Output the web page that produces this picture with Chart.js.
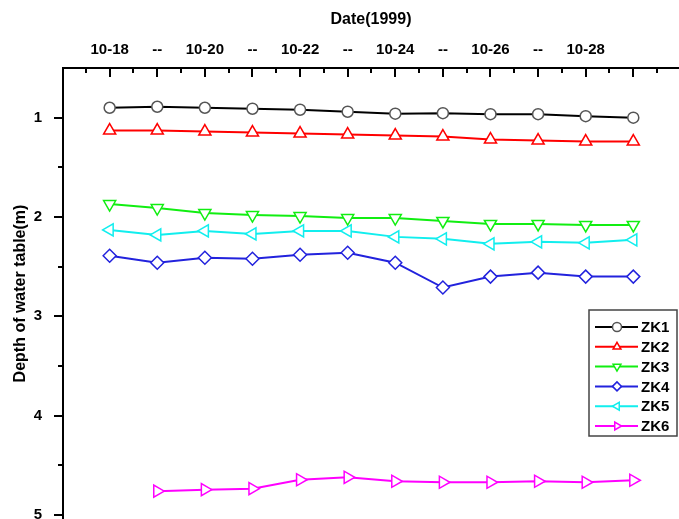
<!DOCTYPE html>
<html>
<head>
<meta charset="utf-8">
<script src="https://cdn.jsdelivr.net/npm/chart.js@4.4.0/dist/chart.umd.min.js"></script>
<style>
  body { margin: 0; background: #fff; }
</style>
</head>
<body>
<canvas id="myChart" width="679" height="519"></canvas>
<script>
// days of October 1999
const days = [18, 19, 20, 21, 22, 23, 24, 25, 26, 27, 28, 29];
const xTickLabels = ['10-18', '--', '10-20', '--', '10-22', '--', '10-24', '--', '10-26', '--', '10-28', ''];
const yTicks = [1, 2, 3, 4, 5];

const zk1 = [0.90, 0.89, 0.90, 0.91, 0.92, 0.94, 0.96, 0.955, 0.965, 0.965, 0.985, 1.00];
const zk2 = [1.13, 1.13, 1.14, 1.15, 1.16, 1.17, 1.18, 1.19, 1.22, 1.23, 1.24, 1.24];
const zk3 = [1.87, 1.91, 1.96, 1.98, 1.99, 2.01, 2.01, 2.04, 2.07, 2.07, 2.08, 2.08];
const zk4 = [2.39, 2.46, 2.41, 2.42, 2.38, 2.36, 2.46, 2.71, 2.60, 2.56, 2.60, 2.60];
const zk5 = [2.13, 2.18, 2.14, 2.17, 2.14, 2.14, 2.20, 2.22, 2.27, 2.25, 2.26, 2.23];
const zk6 = [null, 4.76, 4.745, 4.735, 4.645, 4.62, 4.66, 4.67, 4.67, 4.66, 4.67, 4.65];

const FONT = "'Liberation Sans', Arial, sans-serif";
Chart.defaults.font.family = FONT;
Chart.defaults.font.weight = 'bold';
Chart.defaults.color = '#000';

function pts(vals) {
  return days.map((d, i) => ({ x: d, y: vals[i] }));
}

function series(label, vals, color, markColor, style, rot, r) {
  return {
    label: label,
    data: pts(vals),
    borderColor: color,
    borderWidth: 2,
    pointStyle: style,
    pointRotation: rot,
    pointRadius: r,
    pointBorderWidth: 1.5,
    pointBorderColor: markColor,
    pointBackgroundColor: '#fff',
    tension: 0
  };
}

// inward ticks on top axis, outward ticks on left axis
const tickMarks = {
  id: 'tickMarks',
  afterDatasetsDraw(chart) {
    const ctx = chart.ctx;
    const x = chart.scales.x, y = chart.scales.y, a = chart.chartArea;
    ctx.save();
    ctx.strokeStyle = '#000';
    ctx.lineWidth = 2;
    ctx.beginPath();
    for (let v = 17.5; v < x.max; v += 0.5) {
      const px = Math.round(x.getPixelForValue(v));
      const len = Number.isInteger(v) ? 9 : 5;
      ctx.moveTo(px, a.top);
      ctx.lineTo(px, a.top + len);
    }
    for (let v = 1; v <= 5; v += 0.5) {
      const py = Math.round(y.getPixelForValue(v));
      const len = Number.isInteger(v) ? 9 : 5;
      ctx.moveTo(a.left - len, py);
      ctx.lineTo(a.left, py);
    }
    ctx.stroke();
    ctx.restore();
  }
};

const boxLegend = {
  id: 'boxLegend',
  afterDraw(chart) {
    const ctx = chart.ctx;
    const x0 = 589, y0 = 310, w = 88, h = 126;
    ctx.save();
    ctx.fillStyle = '#fff';
    ctx.fillRect(x0, y0, w, h);
    ctx.strokeStyle = '#444';
    ctx.lineWidth = 1.5;
    ctx.strokeRect(x0, y0, w, h);
    chart.data.datasets.forEach((ds, i) => {
      const cy = y0 + 17 + i * 19.8;
      ctx.strokeStyle = ds.borderColor;
      ctx.lineWidth = 2;
      ctx.beginPath();
      ctx.moveTo(595, cy);
      ctx.lineTo(638, cy);
      ctx.stroke();
      ctx.fillStyle = '#fff';
      ctx.strokeStyle = ds.pointBorderColor;
      ctx.lineWidth = 1.5;
      Chart.helpers.drawPoint(ctx, { pointStyle: ds.pointStyle, radius: 4.5, rotation: ds.pointRotation, borderWidth: 1.5 }, 617, cy);
      ctx.fillStyle = '#000';
      ctx.font = 'bold 15px ' + FONT;
      ctx.textBaseline = 'middle';
      ctx.textAlign = 'left';
      ctx.fillText(ds.label, 641, cy + 1);
    });
    ctx.restore();
  }
};

const ctx = document.getElementById('myChart').getContext('2d');
const myChart = new Chart(ctx, {
  type: 'line',
  data: {
    datasets: [
      series('ZK1', zk1, '#000000', '#555555', 'circle', 0, 5.5),
      series('ZK2', zk2, '#ff0000', '#ff0000', 'triangle', 0, 7),
      series('ZK3', zk3, '#11ee11', '#11ee11', 'triangle', 180, 7),
      series('ZK4', zk4, '#2222dd', '#2222dd', 'rectRot', 0, 6.5),
      series('ZK5', zk5, '#11eeee', '#11eeee', 'triangle', 270, 7),
      series('ZK6', zk6, '#ff00ff', '#ff00ff', 'triangle', 90, 7)
    ]
  },
  options: {
    responsive: false,
    animation: false,
    layout: { padding: 0, autoPadding: false },
    plugins: {
      legend: { display: false },
      tooltip: { enabled: false }
    },
    scales: {
      x: {
        type: 'linear',
        position: 'top',
        min: 17.02,
        max: 29.96,
        grid: { display: false },
        border: { display: true, color: '#000', width: 2 },
        afterBuildTicks: s => { s.ticks = days.map(v => ({ value: v })); },
        afterFit: s => { s.height = 68; s.paddingLeft = 0; s.paddingRight = 0; },
        ticks: {
          autoSkip: false,
          maxRotation: 0,
          padding: 1,
          font: { size: 15, weight: 'bold' },
          callback: v => {
            const i = days.indexOf(v);
            return i >= 0 ? xTickLabels[i] : '';
          }
        },
        title: {
          display: true,
          text: 'Date(1999)',
          font: { size: 16, weight: 'bold' },
          padding: { top: 10, bottom: 0 }
        }
      },
      y: {
        type: 'linear',
        reverse: true,
        min: 0.5,
        max: 5.04,
        grid: { display: false },
        border: { display: true, color: '#000', width: 2 },
        afterBuildTicks: s => { s.ticks = yTicks.map(v => ({ value: v })); },
        afterFit: s => { s.width = 63; s.paddingTop = 0; s.paddingBottom = 0; },
        ticks: {
          padding: 13,
          font: { size: 15, weight: 'bold' },
          callback: v => String(v)
        },
        title: {
          display: true,
          text: 'Depth of water table(m)',
          font: { size: 16, weight: 'bold' },
          padding: { top: 11, bottom: 0 }
        }
      }
    }
  },
  plugins: [tickMarks, boxLegend]
});
</script>
</body>
</html>
